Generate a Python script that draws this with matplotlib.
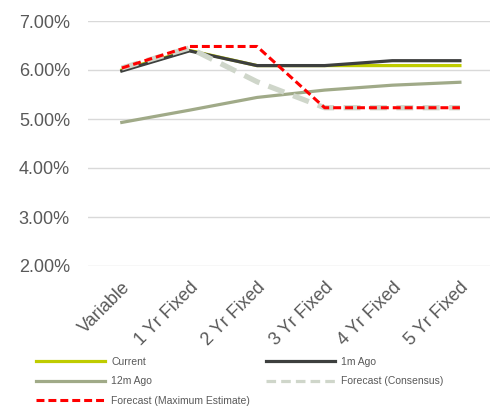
import matplotlib
matplotlib.use("Agg")
import numpy as np
from matplotlib import pyplot as plt
from matplotlib import ticker
from matplotlib.lines import Line2D

plt.rcParams['font.family'] = ['Liberation Sans', 'DejaVu Sans']

# data
categories = ['Variable', '1 Yr Fixed', '2 Yr Fixed', '3 Yr Fixed', '4 Yr Fixed', '5 Yr Fixed']
current = [6.00, 6.40, 6.09, 6.09, 6.09, 6.09]
one_month = [5.98, 6.39, 6.09, 6.09, 6.19, 6.19]
twelve_month = [4.93, 5.18, 5.44, 5.59, 5.69, 5.75]
consensus = [6.04, 6.45, 5.76, 5.23, 5.23, 5.23]
max_estimate = [6.04, 6.48, 6.48, 5.23, 5.23, 5.23]
y_ticks = [2, 3, 4, 5, 6, 7]

# figure
W, H = 490, 407
fig = plt.figure(figsize=(W / 100, H / 100), dpi=100)
ax = fig.add_axes([88 / W, 141 / H, (490 - 88) / W, 245 / H])

x = np.arange(len(categories))
ax.plot(x, current, color='#bfcc00', lw=2.3, zorder=3)
ax.plot(x, one_month, color='#3d3f3e', lw=2.3, zorder=4)
ax.plot(x, twelve_month, color='#a0aa88', lw=2.3, zorder=5)
ax.plot(x, consensus, color='#cfd6ca', lw=3.8, dashes=(3.2, 1.8), zorder=6)
ax.plot(x, max_estimate, color='#ff0000', lw=2.2, dashes=(2.6, 1.3), zorder=7)

ax.set_xlim(-0.5, 5.445)
ax.set_ylim(2, 7)

# ticks and grid
ax.set_yticks(y_ticks)
ax.yaxis.set_major_formatter(ticker.FuncFormatter(lambda v, p: f'{v:.2f}%'))
ax.set_xticks(x)
ax.set_xticklabels(categories, rotation=45, ha='right', rotation_mode='anchor')
ax.tick_params(axis='both', length=0, labelsize=13, colors='#595959')
ax.tick_params(axis='y', pad=13)
ax.tick_params(axis='x', pad=9)
ax.grid(axis='y', color='#d9d9d9', lw=1.0)
ax.set_axisbelow(True)
for s in ax.spines.values():
    s.set_visible(False)

# legend (column-wise fill -> reorder)
handles = [
    Line2D([], [], color='#bfcc00', lw=2.3),
    Line2D([], [], color='#a0aa88', lw=2.3),
    Line2D([], [], color='#ff0000', lw=2.2, dashes=(2.6, 1.3)),
    Line2D([], [], color='#3d3f3e', lw=2.3),
    Line2D([], [], color='#cfd6ca', lw=2.3, dashes=(3.0, 1.6)),
]
labels = ['Current', '12m Ago', 'Forecast (Maximum Estimate)', '1m Ago', 'Forecast (Consensus)']
leg = fig.legend(handles=handles, labels=labels,
                 ncol=2, loc='upper left', bbox_to_anchor=(36 / W, 1 - 357 / H),
                 frameon=False, fontsize=7.5, handlelength=6.6, handletextpad=0.6,
                 labelspacing=0.9, columnspacing=1.55, borderpad=0, borderaxespad=0)
for t in leg.get_texts():
    t.set_color('#595959')

fig.savefig('out.png', dpi=100)
